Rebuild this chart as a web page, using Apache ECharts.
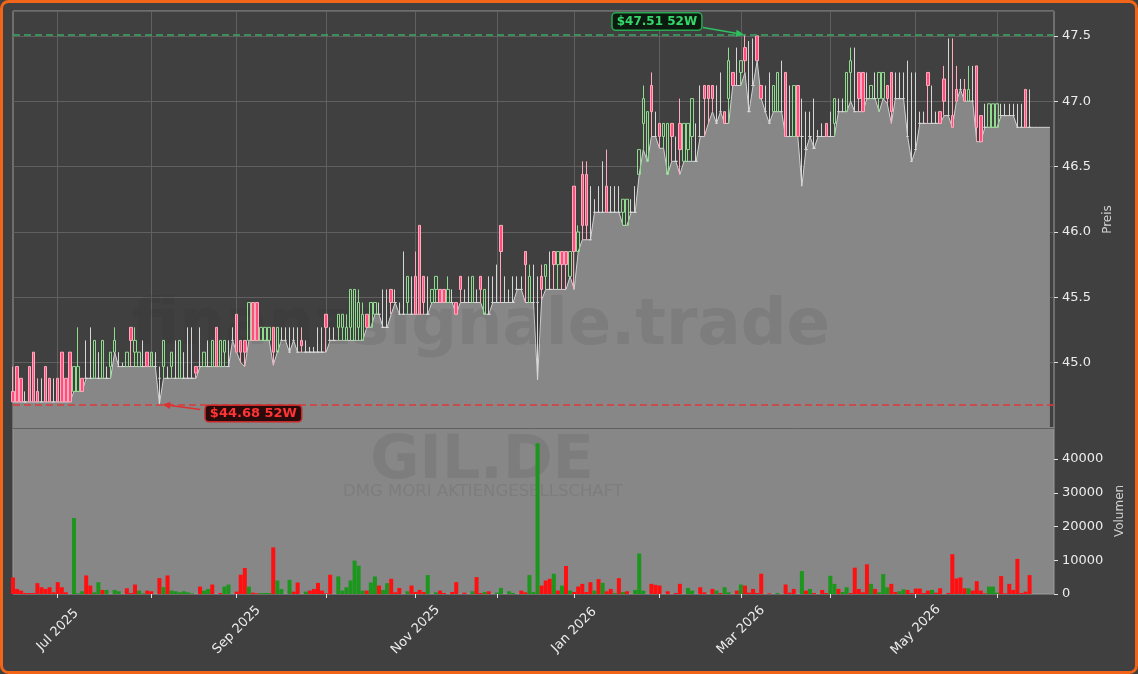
<!DOCTYPE html>
<html>
<head>
<meta charset="utf-8">
<title>GIL.DE</title>
<script src="https://cdn.jsdelivr.net/npm/echarts@6/dist/echarts.min.js"></script>
<style>
  html, body { margin: 0; padding: 0; background: #404040; }
  #chart { width: 1138px; height: 674px; }
</style>
</head>
<body>
<div id="chart"></div>
<script>
// trading calendar (Xetra days, data source gaps included)
const startDate = '2025-06-16';
const dayCount = 257;
const holidays = ['2025-10-03', '2025-12-24', '2025-12-25', '2025-12-26', '2025-12-31', '2026-01-01', '2026-04-03', '2026-05-01'];
const monthNames = ['Jan', 'Feb', 'Mar', 'Apr', 'May', 'Jun', 'Jul', 'Aug', 'Sep', 'Oct', 'Nov', 'Dec'];

// OHLC
const open = [
  44.78,44.97,44.88,44.70,44.97,45.08,44.78,44.70,44.97,44.88,44.70,44.88,45.08,44.88,45.08,
  44.78,44.78,44.88,44.88,44.88,44.88,44.88,44.88,44.88,44.97,45.08,44.97,44.97,44.97,45.27,
  45.08,44.97,44.97,45.08,44.97,44.97,44.88,44.97,44.88,44.97,44.88,44.88,44.88,44.88,44.88,
  44.97,44.97,44.97,44.97,44.97,45.27,44.97,45.08,44.97,45.17,45.37,45.17,45.17,45.17,45.46,
  45.46,45.17,45.17,45.17,45.27,45.08,45.17,45.17,45.08,45.17,45.08,45.17,45.08,45.08,45.08,
  45.08,45.08,45.37,45.17,45.17,45.27,45.27,45.17,45.27,45.17,45.27,45.17,45.37,45.27,45.37,
  45.37,45.27,45.27,45.56,45.46,45.37,45.37,45.46,45.37,45.66,46.05,45.66,45.37,45.46,45.56,
  45.56,45.56,45.46,45.46,45.46,45.66,45.46,45.46,45.46,45.46,45.66,45.37,45.37,45.46,45.46,
  46.05,45.46,45.46,45.46,45.56,45.56,45.85,45.46,45.46,45.46,45.66,45.66,45.56,45.85,45.75,
  45.85,45.85,45.66,46.35,45.85,46.44,46.44,45.94,46.15,46.15,46.15,46.35,46.15,46.15,46.15,
  46.15,46.05,46.15,46.15,46.44,46.83,46.54,47.12,46.73,46.83,46.73,46.44,46.83,46.54,46.83,
  46.54,46.63,46.73,46.54,46.73,47.12,47.12,47.12,46.83,46.92,46.92,47.02,47.22,47.12,47.22,
  47.41,46.92,47.12,47.50,47.12,46.92,46.83,46.92,46.92,46.92,47.22,46.73,46.73,47.12,46.73,
  46.63,46.73,46.64,46.73,46.73,46.83,46.73,46.83,46.92,46.92,46.92,47.22,46.92,47.22,47.22,
  47.02,47.02,47.02,47.02,47.02,47.12,47.22,47.02,47.02,47.02,46.73,46.54,46.63,46.83,46.83,
  47.22,46.83,46.83,46.92,47.17,46.89,46.89,47.09,47.09,47.09,47.00,47.00,47.27,46.89,46.80,
  46.80,46.80,46.80,46.89,46.89,46.89,46.89,46.80,46.80,47.09,46.80
];
const high = [
  44.97,44.97,44.88,44.78,44.97,45.08,44.88,44.88,44.97,44.88,44.88,44.88,45.08,44.88,45.08,
  44.97,45.27,44.88,45.17,45.27,45.17,45.08,45.17,44.97,45.08,45.27,45.08,45.00,45.08,45.27,
  45.27,45.08,45.17,45.08,45.08,45.08,44.97,45.17,44.97,45.08,45.17,45.17,45.08,45.27,45.27,
  44.97,45.27,45.08,45.17,45.17,45.27,45.17,45.17,45.17,45.27,45.37,45.17,45.17,45.46,45.46,
  45.46,45.27,45.27,45.27,45.27,45.27,45.27,45.27,45.27,45.27,45.27,45.27,45.17,45.12,45.12,
  45.27,45.27,45.37,45.27,45.27,45.37,45.37,45.37,45.56,45.56,45.56,45.46,45.37,45.46,45.46,
  45.46,45.56,45.56,45.56,45.56,45.46,45.85,45.66,45.66,45.85,46.05,45.66,45.66,45.56,45.66,
  45.56,45.56,45.66,45.56,45.46,45.66,45.56,45.66,45.66,45.56,45.66,45.56,45.66,45.66,45.75,
  46.05,45.66,45.56,45.66,45.66,45.66,45.85,45.75,45.75,45.66,45.75,45.75,45.85,45.85,45.85,
  45.85,45.85,45.85,46.35,46.05,46.54,46.54,46.35,46.25,46.35,46.54,46.63,46.35,46.35,46.35,
  46.25,46.25,46.25,46.35,46.63,47.12,46.92,47.22,46.92,46.83,46.83,46.83,46.83,46.73,47.02,
  46.83,46.83,47.02,46.83,47.12,47.12,47.12,47.12,47.12,47.22,46.92,47.41,47.22,47.41,47.31,
  47.51,47.46,47.48,47.50,47.12,47.12,47.22,47.12,47.22,47.31,47.22,47.12,47.12,47.12,47.02,
  46.92,46.92,47.02,46.78,46.83,46.83,46.92,47.02,47.02,47.02,47.22,47.41,47.41,47.22,47.22,
  47.22,47.12,47.22,47.22,47.22,47.12,47.22,47.22,47.22,47.22,47.31,47.22,47.22,46.92,46.92,
  47.22,47.12,46.92,46.92,47.27,47.48,47.48,47.27,47.17,47.17,47.27,47.27,47.27,46.89,46.98,
  46.98,46.98,46.98,46.98,46.98,46.98,46.98,46.98,46.98,47.09,47.09
];
// low also drives the grey area, it runs a few days past the last candle
const low = [
  44.70,44.70,44.70,44.70,44.70,44.70,44.70,44.70,44.70,44.70,44.70,44.70,44.70,44.70,44.70,
  44.78,44.78,44.78,44.88,44.88,44.88,44.88,44.88,44.88,44.88,45.08,44.97,44.97,44.97,44.97,
  44.97,44.97,44.97,44.97,44.97,44.97,44.68,44.88,44.88,44.88,44.88,44.88,44.88,44.88,44.88,
  44.88,44.97,44.97,44.97,44.97,44.97,44.97,44.97,44.97,45.17,45.08,45.00,44.97,45.17,45.17,
  45.17,45.17,45.17,45.17,44.98,45.08,45.17,45.17,45.08,45.17,45.08,45.08,45.08,45.08,45.08,
  45.08,45.08,45.08,45.17,45.17,45.17,45.17,45.17,45.17,45.17,45.17,45.17,45.27,45.27,45.37,
  45.37,45.27,45.27,45.37,45.46,45.37,45.37,45.37,45.37,45.37,45.37,45.37,45.37,45.46,45.46,
  45.46,45.46,45.46,45.46,45.37,45.46,45.46,45.46,45.46,45.46,45.46,45.37,45.37,45.46,45.46,
  45.46,45.46,45.46,45.46,45.56,45.56,45.46,45.46,45.46,44.87,45.48,45.56,45.56,45.56,45.56,
  45.56,45.56,45.66,45.56,45.85,45.94,45.94,45.94,46.15,46.15,46.15,46.15,46.15,46.15,46.15,
  46.05,46.05,46.15,46.15,46.44,46.63,46.54,46.73,46.73,46.64,46.64,46.44,46.54,46.54,46.44,
  46.54,46.54,46.54,46.54,46.73,46.73,46.83,46.92,46.83,46.92,46.83,46.83,47.12,47.12,47.12,
  47.22,46.92,47.12,47.31,47.02,46.92,46.83,46.92,46.92,46.92,46.73,46.73,46.73,46.73,46.35,
  46.63,46.73,46.64,46.73,46.73,46.73,46.73,46.73,46.92,46.92,46.92,47.00,46.92,46.92,46.92,
  47.02,47.02,47.02,46.92,47.02,46.98,46.83,47.02,47.02,47.02,46.73,46.54,46.63,46.83,46.83,
  46.83,46.83,46.83,46.83,46.89,46.89,46.80,47.00,47.09,47.00,47.00,47.00,46.69,46.69,46.80,
  46.80,46.80,46.80,46.89,46.89,46.89,46.89,46.80,46.80,46.80,46.80,
  46.80,46.80,46.80,46.80,46.80
];
const close = [
  44.70,44.70,44.70,44.70,44.70,44.70,44.70,44.70,44.70,44.70,44.70,44.70,44.70,44.70,44.70,
  44.97,44.97,44.78,44.88,44.88,45.17,44.88,45.17,44.88,45.08,45.17,44.97,44.97,45.08,45.17,
  45.17,45.08,44.97,44.97,45.08,44.97,44.88,45.17,44.88,45.08,44.88,45.17,44.88,44.88,44.88,
  44.92,44.97,45.08,44.97,45.17,44.97,45.17,45.17,44.97,45.17,45.08,45.08,45.08,45.46,45.17,
  45.17,45.27,45.27,45.27,45.08,45.27,45.17,45.17,45.08,45.17,45.08,45.13,45.08,45.08,45.08,
  45.08,45.08,45.27,45.17,45.17,45.37,45.37,45.27,45.56,45.56,45.46,45.37,45.27,45.46,45.46,
  45.37,45.27,45.27,45.46,45.46,45.37,45.37,45.66,45.37,45.37,45.37,45.46,45.37,45.56,45.66,
  45.46,45.46,45.56,45.46,45.37,45.56,45.46,45.46,45.66,45.46,45.56,45.56,45.37,45.46,45.46,
  45.85,45.46,45.46,45.46,45.56,45.56,45.75,45.66,45.46,45.46,45.56,45.75,45.56,45.75,45.85,
  45.75,45.75,45.85,45.85,46.00,46.05,46.05,45.94,46.15,46.15,46.15,46.15,46.15,46.15,46.15,
  46.25,46.25,46.15,46.15,46.63,47.02,46.92,46.92,46.73,46.73,46.83,46.83,46.73,46.54,46.63,
  46.83,46.83,47.02,46.54,46.73,47.02,47.02,47.02,46.83,46.92,46.83,47.31,47.12,47.12,47.31,
  47.31,46.92,47.12,47.31,47.02,46.92,46.83,47.12,47.22,46.92,46.73,46.73,47.12,46.73,46.73,
  46.63,46.73,46.64,46.73,46.73,46.73,46.73,47.02,46.92,46.92,47.22,47.31,46.92,47.02,46.92,
  47.02,47.12,47.02,47.22,47.22,47.02,46.92,47.02,47.02,47.02,46.73,46.54,46.63,46.83,46.83,
  47.12,46.83,46.83,46.83,47.00,46.89,46.80,47.00,47.09,47.00,47.09,47.00,46.80,46.69,46.80,
  46.98,46.98,46.98,46.89,46.89,46.89,46.89,46.80,46.80,46.80,46.80
];

// Volumen, 1 = green bar, 0 = red bar
const volume = [
  4900,1500,1000,300,300,300,3200,2000,1500,2000,500,3500,2000,500,0,
  22500,200,800,5500,2500,500,3500,1200,1200,0,1200,800,0,1700,300,
  2800,1000,200,1000,800,0,4700,2000,5500,1000,800,500,800,500,200,
  0,2200,1000,1500,2800,0,300,2200,2800,0,700,5700,7700,2200,400,
  200,300,300,300,13800,4000,1500,0,4200,700,3400,0,700,1000,1500,
  3300,1000,200,5700,0,5200,1000,2000,4000,9900,8400,1000,1000,3400,5200,
  2500,1200,3200,4500,500,1800,0,800,2500,600,1200,600,5600,0,500,
  1000,300,0,600,3500,0,400,0,800,5000,300,600,800,0,400,
  1800,0,800,300,0,1000,500,5600,600,44700,2500,4000,4500,6000,1000,
  2500,8300,1000,600,2200,3000,600,3500,1000,4400,3300,800,1500,300,4700,
  600,800,0,1200,12000,1000,0,3000,2700,2500,0,800,0,300,3000,
  0,1800,1000,0,2000,500,0,1500,1000,300,2000,500,0,1000,2800,
  2500,400,1500,300,6000,0,200,0,300,0,2800,400,1500,0,6800,
  1000,1500,300,0,1200,300,5400,3000,1500,600,2000,300,7800,1500,500,
  8800,3000,1500,500,5900,2000,3000,600,800,1400,1200,300,1600,1600,300,
  1000,1200,400,1700,0,300,11800,4600,4900,1700,1700,1000,3800,1000,200,
  2200,2200,400,5300,200,3000,1200,10400,300,700,5600
];
const volUp = [
  0,0,0,0,0,0,0,0,0,0,0,0,0,0,0,
  1,1,1,0,0,1,1,0,1,0,1,1,0,0,0,
  0,1,1,0,0,0,0,1,0,1,1,1,1,1,1,
  0,0,1,1,0,0,0,1,1,0,0,0,0,1,0,
  0,1,1,1,0,1,1,0,1,0,0,0,1,0,0,
  0,0,0,0,0,1,1,1,1,1,1,1,0,1,1,
  0,1,1,0,0,0,0,1,0,0,0,0,1,0,1,
  0,0,0,0,0,0,0,0,1,0,0,1,0,0,1,
  1,0,1,1,0,0,0,1,1,1,0,0,0,1,0,
  1,0,1,0,0,0,0,0,1,0,1,0,0,1,0,
  1,0,0,1,1,1,0,0,0,0,0,0,0,0,0,
  0,1,1,0,0,0,0,0,1,0,1,1,0,0,1,
  0,0,0,0,0,0,0,0,1,0,0,0,0,0,1,
  0,1,0,0,0,0,1,1,0,1,1,0,0,0,0,
  0,1,0,1,1,1,0,0,1,1,0,0,0,0,0,
  0,1,0,0,0,0,0,0,0,0,1,0,0,0,0,
  1,1,1,0,0,0,0,0,0,0,0
];

const priceTicks = [45.0, 45.5, 46.0, 46.5, 47.0, 47.5];
const volumeTicks = [0, 10000, 20000, 30000, 40000];

function tradingDays(start, n, skip) {
  const out = [];
  const d = new Date(start + 'T12:00:00Z');
  while (out.length < n) {
    const wd = d.getUTCDay();
    const s = d.toISOString().slice(0, 10);
    if (wd !== 0 && wd !== 6 && skip.indexOf(s) < 0) out.push(s);
    d.setUTCDate(d.getUTCDate() + 1);
  }
  return out;
}

const dates = tradingDays(startDate, dayCount, holidays);
const monthStart = i => i > 0 && dates[i].slice(5, 7) !== dates[i - 1].slice(5, 7);
const labelDay = i => monthStart(i) && Number(dates[i].slice(5, 7)) % 2 === 1;
const fmtDate = v => monthNames[Number(v.slice(5, 7)) - 1] + ' ' + v.slice(0, 4);

const candles = open.map((o, i) => [o, close[i], low[i], high[i]]);
const volBars = volume.map((v, i) => ({
  value: v,
  itemStyle: { color: volUp[i] ? '#1c961c' : '#ff0f0f' }
}));

const hiVal = Math.max(...high);
const loVal = Math.min(...low);
const hiIdx = high.indexOf(hiVal);
const loIdx = low.indexOf(loVal);

const chart = echarts.init(document.getElementById('chart'));

const wmColor = 'rgba(40,40,40,0.1)';

const option = {
  backgroundColor: '#404040',
  animation: false,
  textStyle: { fontFamily: 'DejaVu Sans' },
  grid: [
    { left: 13, right: 84, top: 11, height: 417, show: true, backgroundColor: 'transparent', borderColor: '#9c9c9c', borderWidth: 1, outerBoundsMode: 'none' },
    { left: 13, right: 84, top: 428, height: 166, show: true, backgroundColor: '#878787', borderColor: '#9c9c9c', borderWidth: 1, outerBoundsMode: 'none' }
  ],
  xAxis: [
    {
      type: 'category', gridIndex: 0, data: dates, boundaryGap: false,
      axisLine: { show: false }, axisTick: { show: false }, axisLabel: { show: false },
      splitLine: { show: true, interval: (i) => monthStart(i), lineStyle: { color: '#606060', width: 1 } }
    },
    {
      type: 'category', gridIndex: 1, data: dates, boundaryGap: false,
      axisLine: { show: false },
      axisTick: { show: true, interval: (i) => monthStart(i), length: 4, lineStyle: { color: '#e0e0e0' } },
      axisLabel: {
        interval: (i) => labelDay(i), formatter: fmtDate, rotate: 45,
        align: 'center', verticalAlign: 'middle', margin: 36,
        color: '#ececec', fontSize: 13
      },
      splitLine: { show: false }
    }
  ],
  yAxis: [
    {
      type: 'value', gridIndex: 0, position: 'right', min: 44.5, max: 47.69, interval: 0.5,
      axisLine: { show: false },
      axisTick: { show: true, length: 4, lineStyle: { color: '#e0e0e0' } },
      axisLabel: {
        color: '#ececec', fontSize: 13, margin: 8, showMinLabel: false, showMaxLabel: false,
        formatter: v => (priceTicks.indexOf(v) >= 0 ? v.toFixed(1) : '')
      },
      splitLine: { show: true, lineStyle: { color: '#606060', width: 1 } },
      name: 'Preis', nameLocation: 'middle', nameRotate: 90, nameGap: 45,
      nameTextStyle: { color: '#d0d0d0', fontSize: 12 }
    },
    {
      type: 'value', gridIndex: 1, position: 'right', min: 0, max: 49200, interval: 10000,
      axisLine: { show: false },
      axisTick: { show: true, length: 4, lineStyle: { color: '#e0e0e0' } },
      axisLabel: {
        color: '#ececec', fontSize: 13, margin: 8, showMaxLabel: false,
        formatter: v => (volumeTicks.indexOf(v) >= 0 ? String(v) : '')
      },
      splitLine: { show: false },
      name: 'Volumen', nameLocation: 'middle', nameRotate: 90, nameGap: 57,
      nameTextStyle: { color: '#d0d0d0', fontSize: 12 }
    }
  ],
  series: [
    {
      name: 'area', type: 'line', xAxisIndex: 0, yAxisIndex: 0, data: low,
      symbol: 'none', silent: true, z: 1,
      lineStyle: { color: '#d2d2d2', width: 1 },
      areaStyle: { color: '#878787', opacity: 1, origin: 'start' }
    },
    {
      name: 'GIL.DE', type: 'candlestick', xAxisIndex: 0, yAxisIndex: 0, data: candles,
      barWidth: 3, z: 4,
      itemStyle: {
        color: 'rgba(0,0,0,0)', color0: '#ff4d7c',
        borderColor: '#8fdc8f', borderColor0: '#ffabbe', borderColorDoji: '#d6d6d6',
        borderWidth: 1
      },
      markLine: {
        silent: true, symbol: 'none', label: { show: false },
        data: [
          { yAxis: hiVal, lineStyle: { color: '#3aa862', type: [7, 4], width: 1.5 } },
          { yAxis: loVal, lineStyle: { color: '#e03a3a', type: [7, 4], width: 1.5 } }
        ]
      }
    },
    {
      name: 'Volumen', type: 'bar', xAxisIndex: 1, yAxisIndex: 1, data: volBars,
      barWidth: 4, z: 4
    }
  ],
  graphic: {
    elements: [
      {
        type: 'text', id: 'wm1', z: 2, silent: true, x: 481, y: 327,
        style: { text: 'finanzsignale.trade', font: 'bold 64px "DejaVu Sans"', fill: wmColor, align: 'center', verticalAlign: 'middle' }
      },
      {
        type: 'text', id: 'wm2', z: 2, silent: true, x: 482, y: 462,
        style: { text: 'GIL.DE', font: 'bold 60px "DejaVu Sans"', fill: wmColor, align: 'center', verticalAlign: 'middle' }
      },
      {
        type: 'text', id: 'wm3', z: 2, silent: true, x: 483, y: 492,
        style: { text: 'DMG MORI AKTIENGESELLSCHAFT', font: '16.5px "DejaVu Sans"', fill: wmColor, align: 'center', verticalAlign: 'middle' }
      },
      {
        type: 'rect', id: 'frame', z: 10, silent: true,
        shape: { x: 1.5, y: 1.5, width: 1135, height: 671, r: 7 },
        style: { fill: 'none', stroke: '#f26519', lineWidth: 3 }
      }
    ]
  }
};

chart.setOption(option);

// 52W labels with arrows, placed from the axis scales
function arrow(id, from, to, color) {
  const dx = to[0] - from[0], dy = to[1] - from[1];
  const len = Math.sqrt(dx * dx + dy * dy);
  const ux = dx / len, uy = dy / len;
  const bx = to[0] - ux * 8, by = to[1] - uy * 8;
  return [
    { type: 'line', id: id + 'l', z: 11, silent: true, shape: { x1: from[0], y1: from[1], x2: bx, y2: by }, style: { stroke: color, lineWidth: 1.6 } },
    { type: 'polygon', id: id + 'h', z: 11, silent: true, shape: { points: [to, [bx - uy * 3.5, by + ux * 3.5], [bx + uy * 3.5, by - ux * 3.5]] }, style: { fill: color } }
  ];
}

const ph = chart.convertToPixel({ gridIndex: 0 }, [hiIdx, hiVal]);
const pl = chart.convertToPixel({ gridIndex: 0 }, [loIdx, loVal]);

chart.setOption({
  graphic: {
    elements: [
      ...arrow('hiA', [ph[0] - 42, ph[1] - 7], [ph[0] - 1, ph[1]], '#2fbf5f'),
      {
        type: 'text', id: 'hiT', z: 12, silent: true, x: ph[0] - 88, y: ph[1] - 13,
        style: {
          text: '$' + hiVal.toFixed(2) + ' 52W', font: 'bold 12px "DejaVu Sans"', fill: '#35d86a',
          align: 'center', verticalAlign: 'middle',
          backgroundColor: '#0c1a10', borderColor: '#27a851', borderWidth: 1.5, borderRadius: 3,
          padding: [2, 4, 2, 4]
        }
      },
      ...arrow('loA', [pl[0] + 41, pl[1] + 5], [pl[0] + 3, pl[1]], '#e03030'),
      {
        type: 'text', id: 'loT', z: 12, silent: true, x: pl[0] + 94, y: pl[1] + 9,
        style: {
          text: '$' + loVal.toFixed(2) + ' 52W', font: 'bold 13px "DejaVu Sans"', fill: '#ff3535',
          align: 'center', verticalAlign: 'middle',
          backgroundColor: '#2a0b0b', borderColor: '#c82828', borderWidth: 1.5, borderRadius: 3,
          padding: [1, 4, 1, 4]
        }
      }
    ]
  }
});
</script>
</body>
</html>
